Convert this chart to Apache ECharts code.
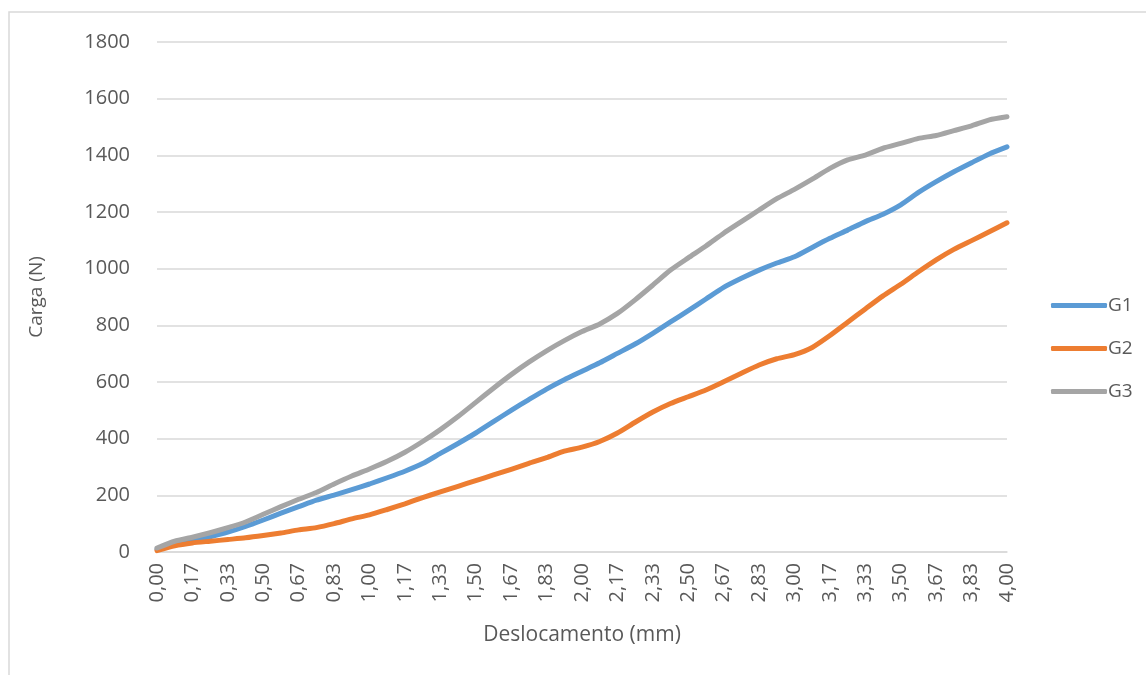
<!DOCTYPE html>
<html>
<head>
<meta charset="utf-8">
<script src="https://cdn.jsdelivr.net/npm/echarts@6/dist/echarts.min.js"></script>
<style>
  html, body { margin: 0; padding: 0; background: #fff; }
  #chart { width: 1146px; height: 675px; }
</style>
</head>
<body>
<div id="chart"></div>
<script>
// deslocamento (mm), passo de 1/12
const categorias = [
  "0,00", "0,08", "0,17", "0,25", "0,33", "0,42", "0,50", "0,58", "0,67", "0,75",
  "0,83", "0,92", "1,00", "1,08", "1,17", "1,25", "1,33", "1,42", "1,50", "1,58",
  "1,67", "1,75", "1,83", "1,92", "2,00", "2,08", "2,17", "2,25", "2,33", "2,42",
  "2,50", "2,58", "2,67", "2,75", "2,83", "2,92", "3,00", "3,08", "3,17", "3,25",
  "3,33", "3,42", "3,50", "3,58", "3,67", "3,75", "3,83", "3,92", "4,00"
];

// carga (N)
const g1 = [
  10, 25, 40, 54, 70, 90, 113, 137, 160, 183,
  201, 220, 240, 262, 285, 312, 348, 383, 420, 460,
  500, 538, 575, 608, 638, 668, 701, 734, 772, 812,
  852, 893, 934, 966, 995, 1020, 1042, 1075, 1107, 1136,
  1166, 1192, 1225, 1269, 1307, 1342, 1374, 1405, 1430
];
const g2 = [
  5, 22, 32, 38, 44, 50, 58, 67, 78, 86,
  100, 117, 131, 150, 170, 192, 212, 232, 252, 272,
  292, 313, 333, 356, 370, 390, 420, 458, 494, 524,
  548, 572, 601, 631, 660, 682, 697, 722, 764, 811,
  858, 904, 945, 989, 1031, 1068, 1099, 1130, 1162
];
const g3 = [
  14, 38, 52, 68, 86, 106, 133, 160, 186, 210,
  240, 268, 293, 320, 352, 390, 432, 478, 528, 578,
  626, 670, 710, 746, 778, 805, 842, 890, 942, 995,
  1038, 1080, 1125, 1166, 1207, 1247, 1280, 1316, 1354, 1384,
  1401, 1425, 1442, 1460, 1470, 1487, 1504, 1525, 1536
];

const nomes = ["G1", "G2", "G3"];
const cores = ["#5B9BD5", "#ED7D31", "#A5A5A5"];

const fonte = "'Open Sans', 'Noto Sans', sans-serif";
const corTexto = "#595959";
const corGrade = "#d9d9d9";

const chart = echarts.init(document.getElementById("chart"));

const serie = (nome, dados, cor) => ({
  name: nome,
  type: "line",
  data: dados,
  smooth: 0.2,
  showSymbol: false,
  lineStyle: { color: cor, width: 5, cap: "round", join: "round" },
  itemStyle: { color: cor },
});

chart.setOption({
  animation: false,
  backgroundColor: "#fff",
  textStyle: { fontFamily: fonte },
  // moldura da área do gráfico
  graphic: [
    {
      type: "rect",
      shape: { x: 9, y: 12, width: 1200, height: 700 },
      style: { fill: "none", stroke: corGrade, lineWidth: 1.5 },
      silent: true,
    },
  ],
  grid: { left: 157, right: 139, top: 42, bottom: 123 },
  legend: {
    orient: "vertical",
    left: 1046,
    top: 291,
    itemGap: 24,
    itemWidth: 56,
    itemHeight: 5,
    icon: "roundRect",
    textStyle: { color: corTexto, fontSize: 19, fontFamily: fonte, padding: [0, 0, 0, -4] },
    data: nomes,
  },
  xAxis: {
    type: "category",
    data: categorias,
    boundaryGap: false,
    name: "Deslocamento (mm)",
    nameLocation: "middle",
    nameGap: 73,
    nameTextStyle: { color: corTexto, fontSize: 21, fontFamily: fonte },
    axisLine: { lineStyle: { color: corGrade, width: 1.5 } },
    axisTick: { show: false },
    axisLabel: {
      interval: 1,
      rotate: 90,
      margin: 11,
      color: corTexto,
      fontSize: 20,
      fontFamily: fonte,
    },
    splitLine: { show: false },
  },
  yAxis: {
    type: "value",
    min: 0,
    max: 1800,
    interval: 200,
    name: "Carga (N)",
    nameLocation: "middle",
    nameGap: 111,
    nameTextStyle: { color: corTexto, fontSize: 19, fontFamily: fonte },
    axisLine: { show: false },
    axisTick: { show: false },
    axisLabel: {
      color: corTexto,
      fontSize: 20,
      margin: 27,
      fontFamily: fonte,
      formatter: (v) => String(v),
    },
    splitLine: { lineStyle: { color: corGrade, width: 1.5 } },
  },
  series: [
    serie(nomes[0], g1, cores[0]),
    serie(nomes[1], g2, cores[1]),
    serie(nomes[2], g3, cores[2]),
  ],
});
</script>
</body>
</html>
